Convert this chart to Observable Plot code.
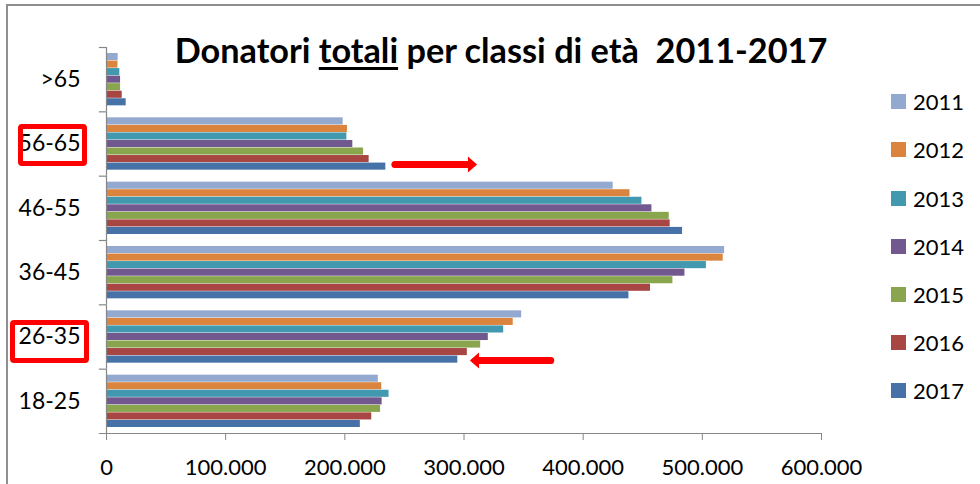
<!DOCTYPE html>
<html><head><meta charset="utf-8">
<script src="https://cdn.jsdelivr.net/npm/d3@7"></script>
<script src="https://cdn.jsdelivr.net/npm/@observablehq/plot@0.6"></script>
<style>
body{margin:0;background:#fff;}
#wrap{position:relative;width:980px;height:484px;overflow:hidden;font-family:Lato,"Noto Sans",sans-serif;color:#000;}
#frame{position:absolute;left:6px;top:4px;width:1000px;height:520px;border-left:2px solid #8f8f8f;border-top:2px solid #8f8f8f;pointer-events:none;}
#title{position:absolute;top:30px;left:0;width:1002px;text-align:center;font-weight:bold;white-space:pre;font-size:30px;line-height:40px;}
#title u{text-decoration-thickness:3px;text-underline-offset:4px;}
.legend-item{position:absolute;left:891px;height:24px;display:flex;align-items:center;font-size:22px;}
.legend-item span.sw{width:15px;height:15px;margin-right:7px;display:inline-block;}
.box{position:absolute;border:5px solid #ff0000;border-radius:4px;box-sizing:border-box;}
</style></head><body>
<div id="wrap"></div>
<script>
const ages = [">65", "56-65", "46-55", "36-45", "26-35", "18-25"];
const years = ["2011", "2012", "2013", "2014", "2015", "2016", "2017"];
const colors = ["#93A9CF", "#DB843D", "#4198AF", "#71588F", "#89A54E", "#A84644", "#4672A8"];
// values per year, in the order of ages
const v2011 = [9800, 198600, 425200, 518700, 348400, 228100];
const v2012 = [9600, 202200, 439300, 517500, 341300, 231000];
const v2013 = [11200, 201700, 449300, 503400, 333300, 237100];
const v2014 = [11800, 206700, 457700, 485400, 320400, 231300];
const v2015 = [11800, 215700, 472200, 475300, 314000, 230000];
const v2016 = [13200, 220400, 473000, 456500, 302800, 222600];
const v2017 = [16500, 234400, 483400, 438400, 294800, 213000];
const xTicks = [0, 100000, 200000, 300000, 400000, 500000, 600000];
const titleText = ["Donatori ", "totali", " per classi di età  2011-2017"];
// annotation arrows (age class, start value, tip value)
const arrowAges = ["56-65", "26-35"];
const arrowFrom = [242000, 372800];
const arrowTo = [311000, 304900];

const series = [v2011, v2012, v2013, v2014, v2015, v2016, v2017];
const data = [];
years.forEach((yr, j) => ages.forEach((a, i) => data.push({age: a, year: yr, value: series[j][i]})));
const arrows = arrowAges.map((a, i) => ({age: a, year: "2017", x1: arrowFrom[i], x2: arrowTo[i]}));

const W = 980, H = 484, mT = 47, mB = 51, mL = 106, mR = 159;
const facetH = (H - mT - mB) / ages.length;
const inset = 6, padIn = 0.06;
const step = (facetH - 2 * inset) / (years.length - padIn);
const bw = step * (1 - padIn);
const topOff = inset + bw / 2;
const axisGray = "#868686";
const fmt = d => d === 0 ? "0" : d3.format(",")(d).replace(/,/g, ".");

// filled triangular arrowhead, tip at the origin
function headSymbol(dir) {
  return {draw(c, size) {
    const r = Math.sqrt(size / Math.PI);
    c.moveTo(0, 0);
    c.lineTo(-dir * r * 1.15, -r);
    c.lineTo(-dir * r * 1.15, r);
    c.closePath();
  }};
}

function arrowMarks(a, dy) {
  const dir = a[0].x2 > a[0].x1 ? 1 : -1;
  return [
    Plot.arrow(a, {x1: "x1", x2: "x2", y1: "year", y2: "year", fy: "age", dy, stroke: "#ff0000", strokeWidth: 7, headLength: 0, insetEnd: 8.5}),
    Plot.dot(a, {x: "x2", y: "year", fy: "age", dy, symbol: headSymbol(dir), r: 8, fill: "#ff0000", stroke: "none"})
  ];
}

const chart = Plot.plot({
  width: W, height: H,
  marginTop: mT, marginBottom: mB, marginLeft: mL, marginRight: mR,
  style: {fontFamily: "Lato, 'Noto Sans', sans-serif", fontSize: "22px", color: "#000", background: "transparent"},
  x: {domain: [0, 600000], axis: null},
  y: {domain: years, axis: null, insetTop: inset, insetBottom: inset, paddingInner: padIn, paddingOuter: 0, round: false},
  fy: {domain: ages, padding: 0, axis: null, round: false},
  color: {domain: years, range: colors},
  marks: [
    Plot.barX(data, {x: "value", y: "year", fy: "age", fill: "year"}),
    Plot.ruleX(ages, {x: () => 0, fy: d => d, stroke: axisGray, strokeWidth: 1.2}),
    Plot.ruleY(ages, {y: () => "2011", fy: d => d, x1: () => -6000, x2: () => 0, dy: -topOff, stroke: axisGray, strokeWidth: 1.2}),
    Plot.ruleY([ages[ages.length - 1]], {y: () => "2017", fy: d => d, x1: () => -6000, x2: () => 600000, dy: topOff, stroke: axisGray, strokeWidth: 1.2}),
    Plot.axisX({ticks: xTicks, tickFormat: fmt, tickSize: 7, tickPadding: 19, stroke: axisGray, fontSize: 22, fill: "#000"}),
    Plot.axisFy({anchor: "left", tickSize: 0, tickPadding: 26, label: null, fontSize: 23, fill: "#000"}),
    ...arrowMarks(arrows.slice(0, 1), -2),
    ...arrowMarks(arrows.slice(1), 1)
  ]
});

const wrap = document.getElementById("wrap");
wrap.appendChild(chart);
chart.style.position = "absolute"; chart.style.left = "0"; chart.style.top = "0";

const frame = document.createElement("div"); frame.id = "frame"; wrap.appendChild(frame);

const title = document.createElement("div"); title.id = "title";
title.appendChild(document.createTextNode(titleText[0]));
const u = document.createElement("u"); u.textContent = titleText[1]; title.appendChild(u);
title.appendChild(document.createTextNode(titleText[2]));
wrap.appendChild(title);
// fit title width to ~653px
const meas = document.createElement("span"); meas.style.cssText = "position:absolute;visibility:hidden;white-space:pre;font-weight:bold;font-size:30px;font-family:Lato,'Noto Sans',sans-serif";
meas.textContent = titleText.join(""); document.body.appendChild(meas);
const tw = meas.getBoundingClientRect().width; meas.remove();
const fs = 30 * 653 / tw; title.style.fontSize = fs + "px";

years.forEach((yr, i) => {
  const it = document.createElement("div"); it.className = "legend-item";
  it.style.top = (101.7 + i * 48.2 - 12) + "px";
  const sw = document.createElement("span"); sw.className = "sw"; sw.style.background = colors[i];
  it.appendChild(sw); it.appendChild(document.createTextNode(yr));
  wrap.appendChild(it);
});

[[18, 124, 69, 42], [10, 320, 79, 43]].forEach(([l, t, w, h]) => {
  const b = document.createElement("div"); b.className = "box";
  b.style.left = l + "px"; b.style.top = t + "px"; b.style.width = w + "px"; b.style.height = h + "px";
  wrap.appendChild(b);
});
</script>
</body></html>
